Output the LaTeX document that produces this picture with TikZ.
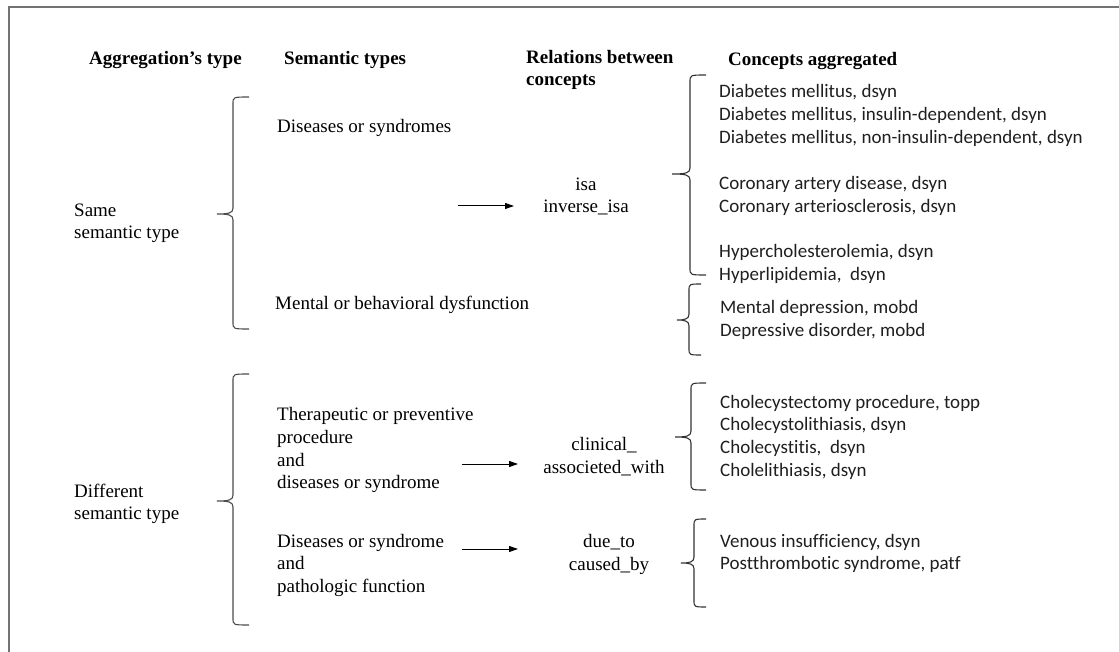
\documentclass[tikz,border=0pt]{standalone}
\usepackage{fontspec}
\setmainfont{Liberation Serif}
\newfontfamily\calib[Ligatures=NoCommon]{Carlito}
\usetikzlibrary{arrows.meta}
\newcommand{\cbrace}[7][]{%
  \draw[brc,#1] (#2,#5) .. controls (#3,#5) .. (#3,{#5+7}) -- (#3,{#6-6})
    .. controls (#3,{#6-1}) and ({#3-4},#6) .. (#4,#6)
    .. controls ({#3-4},#6) and (#3,{#6+1}) .. (#3,{#6+6})
    -- (#3,{#7-7}) .. controls (#3,#7) .. (#2,#7);}
\begin{document}
\begin{tikzpicture}[x=1pt,y=-1pt,
  txt/.style={font=\fontsize{19}{22.8}\selectfont, inner sep=0pt, anchor=base west},
  ctr/.style={txt, anchor=base},
  hdr/.style={txt, font=\fontsize{19}{22.8}\selectfont\bfseries},
  con/.style={txt, font=\fontsize{19}{22.8}\selectfont\calib, text=black!88},
  arr/.style={-{Triangle[length=9pt,width=6pt]}, line width=1pt},
  brc/.style={line width=1.1pt, black!80},
  frame/.style={line width=1.5pt, black!55}]
\useasboundingbox (0,0) rectangle (1119,652);
% frame
\coordinate (fA) at (9,652);
\coordinate (fB) at (9,7);
\coordinate (fC) at (1119,7);
\draw[frame] (fA) -- (fB) -- (fC);
% headers
\node[hdr] (h1) at (89,65) {Aggregation's type};
\node[hdr] (h2) at (284,65) {Semantic types};
\node[hdr] (h3a) at (526,64) {Relations between};
\node[hdr] (h3b) at (526,86) {concepts};
\node[hdr] (h4) at (728,66) {Concepts aggregated};
% aggregation types
\node[txt] (same1) at (74,217) {Same};
\node[txt] (same2) at (74,239) {semantic type};
\node[txt] (diff1) at (74,497) {Different};
\node[txt] (diff2) at (74,519) {semantic type};
% semantic types
\node[txt] (st1) at (277,133) {Diseases or syndromes};
\node[txt] (st2) at (275,310) {Mental or behavioral dysfunction};
\node[txt] (st3a) at (277,420) {Therapeutic or preventive};
\node[txt] (st3b) at (277,443) {procedure};
\node[txt] (st3c) at (277,466) {and};
\node[txt] (st3d) at (277,488) {diseases or syndrome};
\node[txt] (st4a) at (277,547) {Diseases or syndrome};
\node[txt] (st4b) at (277,569) {and};
\node[txt] (st4c) at (277,592) {pathologic function};
% relations
\node[ctr] (r1a) at (586,191) {isa};
\node[ctr] (r1b) at (586,213) {inverse\_isa};
\node[ctr] (r2a) at (604,450) {clinical\_};
\node[ctr] (r2b) at (604,473) {associeted\_with};
\node[ctr] (r3a) at (609,547) {due\_to};
\node[ctr] (r3b) at (609,570) {caused\_by};
% arrows
\coordinate (a1s) at (458,206); \coordinate (a1e) at (514,206);
\coordinate (a2s) at (462,464); \coordinate (a2e) at (518,464);
\coordinate (a3s) at (462,549); \coordinate (a3e) at (518,549);
\draw[arr] (a1s) -- (a1e);
\draw[arr] (a2s) -- (a2e);
\draw[arr] (a3s) -- (a3e);
% concepts
\node[con] (c1) at (719,98) {Diabetes mellitus, dsyn};
\node[con] (c2) at (719,121) {Diabetes mellitus, insulin-dependent, dsyn};
\node[con] (c3) at (719,144) {Diabetes mellitus, non-insulin-dependent, dsyn};
\node[con] (c4) at (719,190) {Coronary artery disease, dsyn};
\node[con] (c5) at (719,213) {Coronary arteriosclerosis, dsyn};
\node[con] (c6) at (719,258) {Hypercholesterolemia, dsyn};
\node[con] (c7) at (719,281) {Hyperlipidemia,\ \ dsyn};
\node[con] (c8) at (720,314) {Mental depression, mobd};
\node[con] (c9) at (720,337) {Depressive disorder, mobd};
\node[con] (c10) at (720,408) {Cholecystectomy procedure, topp};
\node[con] (c11) at (720,430) {Cholecystolithiasis, dsyn};
\node[con] (c12) at (720,453) {Cholecystitis,\ \ dsyn};
\node[con] (c13) at (720,476) {Cholelithiasis, dsyn};
\node[con] (c14) at (720,547) {Venous insufficiency, dsyn};
\node[con] (c15) at (720,569) {Postthrombotic syndrome, patf};
% braces
\cbrace[black!70]{249}{233}{217}{97}{214}{329}
\cbrace[black!70]{249}{233}{217}{374}{501}{625}
\cbrace{706}{690}{672}{75}{174}{275}
\cbrace{701}{689}{677}{284}{320}{355}
\cbrace{706}{691}{675}{383}{437}{490}
\cbrace{706}{694}{681}{519}{563}{607}
\end{tikzpicture}
\end{document}
